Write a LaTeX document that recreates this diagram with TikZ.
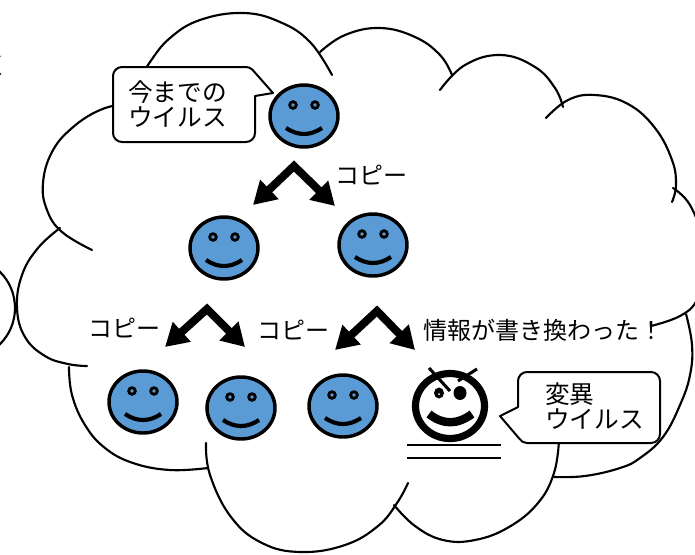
\documentclass[tikz,border=0pt]{standalone}
\usepackage{fontspec}
\newfontfamily\jp{Noto Sans CJK JP}
\usetikzlibrary{arrows.meta}
\definecolor{faceblue}{RGB}{91,155,213}
\tikzset{
  cloudline/.style={line width=1.6pt, line cap=round},
  bubble/.style={draw, fill=white, line width=1.5pt, line join=round},
  facering/.style={draw, fill=faceblue, line width=2.6pt},
  eyedot/.style={draw, fill=faceblue, line width=2.1pt},
  smileline/.style={line width=3.1pt},
  jptext/.style={font=\jp\fontsize{18pt}{18.75pt}\selectfont, inner sep=0pt},
  jpcallout/.style={font=\jp\fontsize{18.5pt}{18.75pt}\selectfont, inner sep=0pt, align=left, anchor=west},
  copyarrow/.style={line width=6pt, line join=miter,
    {Triangle[length=17pt,width=19pt]}-{Triangle[length=17pt,width=19pt]}},
  smiley/.pic={
    \path[facering] (0,0) ellipse[x radius=34, y radius=31];
    \path[eyedot] (-11,-11) circle[radius=3.3];
    \path[eyedot] (11,-11) circle[radius=3.3];
    \draw[smileline] (-18,12) .. controls (-6,20) and (6,20) .. (18,12);
  },
  angry/.pic={
    \path[draw, fill=white, line width=5.4pt] (0,0) ellipse[x radius=34.5, y radius=32.5];
    \fill (-11,-13) ellipse[x radius=5, y radius=5.5];
    \fill (10,-13) ellipse[x radius=6.5, y radius=7];
    \fill[white] (-11,-12) circle[radius=1];
    \draw[line width=2.3pt] (-21,-38) -- (0,-15);
    \draw[line width=2.3pt] (8,-25) -- (27,-37);
    \draw[line width=6.3pt] (-21,8) .. controls (-7,19) and (7,19) .. (22,8);
  },
}
\begin{document}
\begin{tikzpicture}[x=0.75pt,y=-0.75pt]
\useasboundingbox (0,0) rectangle (695,554);
\fill[white] (0,0) rectangle (695,554);
\clip (0,0) rectangle (695,554);

% cut-off character at the left edge
\node[jptext] (edgechar) at (-4,66) {く};

% small circle of a neighbouring bubble
\draw[cloudline] (-36,308) circle[radius=51];

% cloud outline, one arc per bump
\draw[cloudline] plot[smooth, tension=0.7] coordinates
  {(140,80) (150,62) (170,38) (200,20) (243,13) (280,22) (310,42) (332,75)};
\draw[cloudline] plot[smooth, tension=0.7] coordinates
  {(320,52) (345,35) (380,28) (415,37) (440,55) (452,75)};
\draw[cloudline] plot[smooth, tension=0.7] coordinates
  {(440,90) (465,65) (501,55) (535,67) (555,88) (563,107)};
\draw[cloudline] plot[smooth, tension=0.7] coordinates
  {(546,118) (568,100) (595,95) (628,104) (655,128) (672,160) (676,185) (672,202)};
\draw[cloudline] plot[smooth, tension=0.7] coordinates
  {(673,188) (690,205) (703,240) (705,270) (697,300) (680,316) (651,326)};
\draw[cloudline] plot[smooth, tension=0.7] coordinates
  {(686,314) (692,345) (690,375) (680,405) (663,437) (640,458) (620,468) (585,476) (554,477)};
\draw[cloudline] plot[smooth, tension=0.7] coordinates
  {(559,440) (554,473) (538,503) (509,527) (475,540) (443,540) (415,526) (394,505)};
\draw[cloudline] plot[smooth, tension=0.7] coordinates
  {(206,443) (210,475) (231,517) (262,543) (301,552) (345,545) (378,526) (397,503) (408,483)};
\draw[cloudline] plot[smooth, tension=0.7] coordinates
  {(69,367) (72,395) (85,425) (105,448) (133,463) (170,470) (208,468)};
\draw[cloudline] plot[smooth, tension=0.7] coordinates
  {(60,228) (38,248) (22,275) (17,308) (25,337) (45,356) (68,364) (87,366)};
\draw[cloudline] plot[smooth, tension=0.7] coordinates
  {(128,103) (100,110) (72,128) (52,152) (43,183) (47,210) (62,232) (92,250)};

% speech bubbles
\path[bubble] (113,76) arc[start angle=180, end angle=270, radius=9]
  -- (246,67) arc[start angle=270, end angle=315, radius=9]
  -- (273,93) -- (255,96)
  -- (255,133) arc[start angle=0, end angle=90, radius=9]
  -- (122,142) arc[start angle=90, end angle=180, radius=9] -- cycle;
\path[bubble] (518,381) arc[start angle=180, end angle=270, radius=9]
  -- (651,372) arc[start angle=270, end angle=360, radius=9]
  -- (660,434) arc[start angle=0, end angle=90, radius=9]
  -- (527,443) arc[start angle=90, end angle=150, radius=9]
  -- (500,416) -- (518,407) -- cycle;
\node[jpcallout] (oldtxt) at (128,104) {今までの\\ウイルス};
\node[jpcallout] (newtxt) at (545,406) {変異\\ウイルス};

% viruses
\pic (v0) at (304,116) {smiley};
\pic (v1) at (224,248) {smiley};
\pic (v2) at (373,245) {smiley};
\pic (v3) at (143,402) {smiley};
\pic (v4) at (241,408) {smiley};
\pic (v5) at (343,406) {smiley};
\pic (vm) at (450,406) {angry};
\draw[line width=0.9pt] (407,445) -- (501,445);
\draw[line width=0.9pt] (407,458) -- (501,458);

% copy arrows
\coordinate (a1l) at (253,205); \coordinate (a1t) at (294,166); \coordinate (a1r) at (335,206);
\coordinate (a2l) at (165,347); \coordinate (a2t) at (207,309); \coordinate (a2r) at (245,347);
\coordinate (a3l) at (335,350); \coordinate (a3t) at (377,311); \coordinate (a3r) at (415,350);
\draw[copyarrow] (a1l) -- (a1t) -- (a1r);
\draw[copyarrow] (a2l) -- (a2t) -- (a2r);
\draw[copyarrow] (a3l) -- (a3t) -- (a3r);

% labels
\node[jptext] (copytop) at (371,175) {コピー};
\node[jptext] (copyleft) at (124,328) {コピー};
\node[jptext] (copyright) at (293,330) {コピー};
\node[jptext, anchor=west] (rewritten) at (423,330) {情報が書き換わった！};
\end{tikzpicture}
\end{document}
